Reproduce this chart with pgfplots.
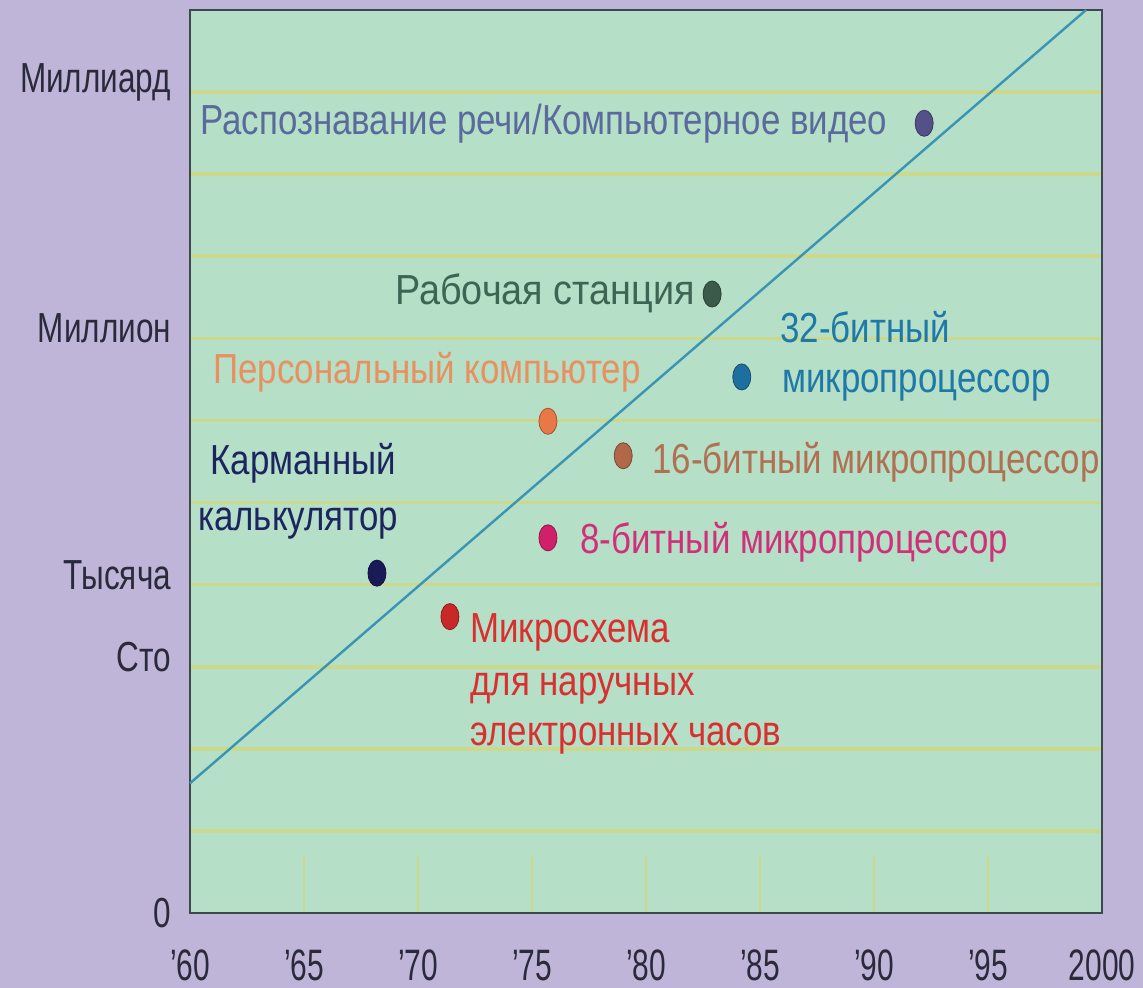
\documentclass[border=0pt]{standalone}
\usepackage{pgfplots}
\pgfplotsset{compat=1.18}
\usepackage{fontspec}
\setmainfont[FakeStretch=0.83]{Liberation Sans}
\newfontfamily\tickfont[FakeStretch=0.68]{Liberation Sans}
\newfontfamily\yfont[FakeStretch=0.75]{Liberation Sans}
\newfontfamily\wideflont[FakeStretch=0.9]{Liberation Sans}
\definecolor{bgpurple}{RGB}{190,181,217}
\definecolor{plotgreen}{RGB}{181,223,198}
\definecolor{gridc}{RGB}{204,217,140}
\definecolor{borderc}{RGB}{60,74,80}
\definecolor{linec}{RGB}{58,148,180}
\definecolor{tickc}{RGB}{42,42,58}
\definecolor{tSpeech}{RGB}{91,106,156}
\definecolor{tWork}{RGB}{62,100,84}
\definecolor{tThirty}{RGB}{30,120,168}
\definecolor{tPC}{RGB}{232,144,96}
\definecolor{tSixteen}{RGB}{176,112,82}
\definecolor{tEight}{RGB}{208,48,122}
\definecolor{tCalc}{RGB}{28,37,96}
\definecolor{tWatch}{RGB}{216,48,48}
\definecolor{dSpeech}{RGB}{84,80,138}
\definecolor{dWork}{RGB}{60,90,74}
\definecolor{dThirty}{RGB}{30,110,160}
\definecolor{dPC}{RGB}{232,120,72}
\definecolor{dSixteen}{RGB}{176,104,72}
\definecolor{dEight}{RGB}{208,32,106}
\definecolor{dCalc}{RGB}{26,26,88}
\definecolor{dWatch}{RGB}{200,40,40}
\begin{document}
\begin{tikzpicture}
\fill[bgpurple] (0,0) rectangle (571.5pt,494pt);
\begin{axis}[
  at={(95pt,37.5pt)}, anchor=south west,
  width=456pt, height=451.5pt, scale only axis,
  xmin=1960, xmax=2000, ymin=0, ymax=11,
  clip=false,
  axis background/.style={fill=plotgreen},
  axis line style={draw=borderc, line width=1.2pt},
  xtick={1960,1965,1970,1975,1980,1985,1990,1995,2000},
  xticklabels={’60,’65,’70,’75,’80,’85,’90,’95,2000},
  x tick label style={font=\tickfont\fontsize{22}{24}\selectfont, text=tickc, yshift=-15pt},
  tick align=inside,
  xtick pos=bottom,
  xtick style={draw=gridc, line width=1pt},
  major tick length=29pt,
  ytick={0,3.12,4.12,7.12,10.12},
  yticklabels={0,Сто,Тысяча,Миллион,Миллиард},
  y tick label style={font=\yfont\fontsize{21}{24}\selectfont, text=tickc, xshift=-6pt},
  ytick style={draw=none},
  minor ytick={1,2,3,4,5,6,7,8,9,10},
  yminorgrids=true,
  minor tick length=0pt,
  minor grid style={draw=gridc, line width=1.8pt},
]
\addplot[line width=1.2pt, color=linec] coordinates {(1960,1.58) (1999.3,11)};

\addplot[only marks, mark=*, mark size=4.5pt, mark options={yscale=1.45, fill=dSpeech, draw=dSpeech!70!black}] coordinates {(1992.2,9.62)};
\addplot[only marks, mark=*, mark size=4.5pt, mark options={yscale=1.45, fill=dWork, draw=dWork!70!black}] coordinates {(1982.9,7.54)};
\addplot[only marks, mark=*, mark size=4.5pt, mark options={yscale=1.45, fill=dThirty, draw=dThirty!70!black}] coordinates {(1984.2,6.53)};
\addplot[only marks, mark=*, mark size=4.5pt, mark options={yscale=1.45, fill=dPC, draw=dPC!70!black}] coordinates {(1975.7,5.99)};
\addplot[only marks, mark=*, mark size=4.5pt, mark options={yscale=1.45, fill=dSixteen, draw=dSixteen!70!black}] coordinates {(1979.0,5.57)};
\addplot[only marks, mark=*, mark size=4.5pt, mark options={yscale=1.45, fill=dEight, draw=dEight!70!black}] coordinates {(1975.7,4.57)};
\addplot[only marks, mark=*, mark size=4.5pt, mark options={yscale=1.45, fill=dCalc, draw=dCalc!70!black}] coordinates {(1968.2,4.14)};
\addplot[only marks, mark=*, mark size=4.5pt, mark options={yscale=1.45, fill=dWatch, draw=dWatch!70!black}] coordinates {(1971.4,3.61)};

\begin{scope}[every node/.style={font=\fontsize{21}{24}\selectfont, inner sep=0pt}]
\node[anchor=west, text=tSpeech] at (axis cs:1960.44,9.61) {Распознавание речи/Компьютерное видео};
\node[anchor=east, text=tWork, font=\wideflont\fontsize{21}{24}\selectfont] at (axis cs:1982.15,7.55) {Рабочая станция};
\node[anchor=west, text=tThirty] at (axis cs:1985.88,7.14) {32-битный};
\node[anchor=west, text=tThirty] at (axis cs:1985.96,6.43) {микропроцессор};
\node[anchor=west, text=tPC] at (axis cs:1961.0,6.59) {Персональный компьютер};
\node[anchor=west, text=tSixteen] at (axis cs:1980.26,5.49) {16-битный микропроцессор};
\node[anchor=west, text=tEight] at (axis cs:1977.1,4.52) {8-битный микропроцессор};
\node[anchor=center, text=tCalc] at (axis cs:1964.96,5.48) {Карманный};
\node[anchor=center, text=tCalc] at (axis cs:1964.74,4.75) {калькулятор};
\node[anchor=west, text=tWatch] at (axis cs:1972.28,3.42) {Микросхема};
\node[anchor=west, text=tWatch] at (axis cs:1972.28,2.74) {для наручных};
\node[anchor=west, text=tWatch] at (axis cs:1972.28,2.13) {электронных часов};
\end{scope}
\end{axis}
\pgfresetboundingbox
\path[use as bounding box] (0,0) rectangle (571.5pt,494pt);
\end{tikzpicture}
\end{document}
